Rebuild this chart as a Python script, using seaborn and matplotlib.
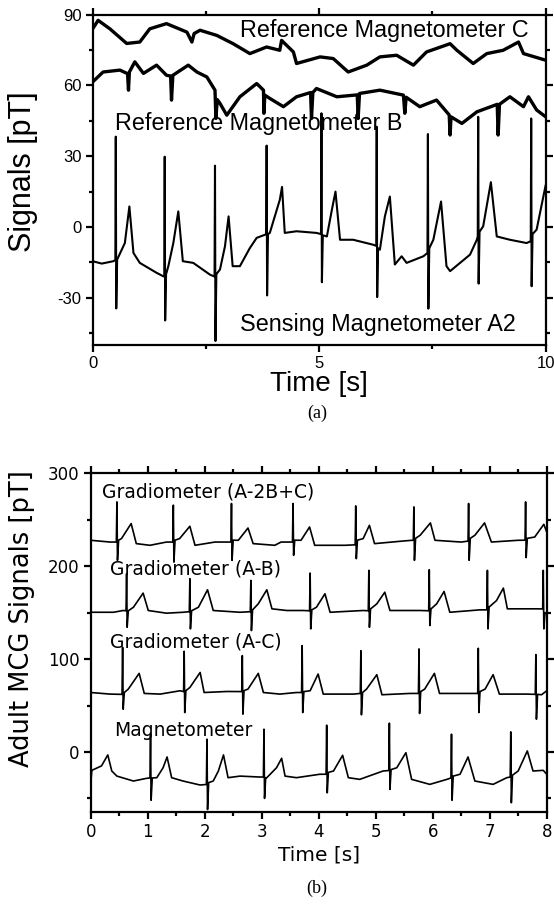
import matplotlib
matplotlib.use("Agg")
import matplotlib.pyplot as plt
import seaborn as sns
import pandas as pd
from matplotlib.ticker import MultipleLocator

# ---------------- panel (a): 10 s record, three magnetometers ----------------
t_ref_c = [0.0, 0.12, 0.38, 0.75, 1.04, 1.26, 1.63, 2.08, 2.19, 2.24, 2.37, 2.74, 3.10,
           3.47, 3.84, 4.13, 4.17, 4.43, 4.50, 5.02, 5.31, 5.64, 6.05, 6.34, 6.71, 7.08,
           7.37, 7.89, 8.04, 8.40, 8.70, 9.06, 9.40, 9.51, 10.0]
ref_c = [84, 87.6, 84, 77.8, 78.4, 84, 86.2, 82.6, 78.4, 82.0, 83.4, 81.2, 77.7,
         73.5, 76.3, 74.9, 79.1, 74.2, 69.3, 72.1, 71.4, 65.7, 68.6, 72.1, 72.8, 68.6,
         74.2, 77.7, 74.9, 69.3, 73.5, 74.9, 78.4, 73.5, 70.7]

t_ref_b = [0.0, 0.23, 0.60, 0.77, 0.79, 0.81, 0.93, 1.12, 1.41, 1.63, 1.72, 1.74, 1.77,
           2.11, 2.30, 2.52, 2.70, 2.72, 2.75, 2.81, 2.96, 3.25, 3.62, 3.77, 3.78, 3.80,
           3.91, 4.21, 4.50, 4.81, 4.83, 4.86, 4.94, 5.39, 5.84, 5.86, 5.89, 6.34, 6.86,
           6.89, 6.92, 7.22, 7.59, 7.87, 7.89, 7.91, 8.15, 8.48, 8.93, 8.95, 8.98, 9.21,
           9.51, 9.62, 9.80, 10.0]
ref_b = [61.5, 65.7, 66.5, 65, 58, 65.7, 70, 65.1, 68.6, 64.3, 64, 53.8, 64.3,
         68.6, 65.7, 63.6, 58, 46, 54, 52.4, 47.4, 55.2, 60.8, 58, 48.2, 55.9,
         54.5, 51, 55.2, 57, 46, 57, 58.7, 55.2, 56, 46, 56.6, 58, 55.9,
         48.2, 55, 51, 53.8, 47.5, 39, 46.7, 43.9, 48.8, 52, 39, 52, 55.2,
         51, 55.2, 49.6, 46.7]

t_sens_a2 = [0.0, 0.20, 0.455, 0.50, 0.51, 0.52, 0.54, 0.71, 0.81, 0.90, 1.04, 1.41, 1.56,
             1.58, 1.59, 1.60, 1.62, 1.67, 1.78, 1.89, 1.99, 2.22, 2.59, 2.69, 2.70, 2.71,
             2.73, 2.81, 2.92, 3.00, 3.09, 3.25, 3.47, 3.62, 3.80, 3.83, 3.84, 3.85, 3.87,
             3.91, 4.13, 4.18, 4.24, 4.50, 4.94, 5.04, 5.05, 5.06, 5.08, 5.17, 5.28, 5.36,
             5.46, 5.75, 6.19, 6.26, 6.27, 6.28, 6.30, 6.34, 6.45, 6.56, 6.67, 6.82, 6.93,
             7.30, 7.39, 7.40, 7.41, 7.43, 7.52, 7.69, 7.81, 7.89, 8.33, 8.48, 8.50, 8.51,
             8.52, 8.54, 8.62, 8.79, 8.92, 9.21, 9.58, 9.67, 9.68, 9.69, 9.71, 9.80, 10.0]
sens_a2 = [-14.5, -15.5, -14.5, -14, 38.3, -34.5, -13.8, -6.8, 8.7, -11, -15.2, -19.4, -20.9,
           -21, 29.8, -39.6, -20, -16.6, -6.8, 6.6, -14.5, -15.2, -20.2, -21, 26, -48.3,
           -20, -18, -8.2, 4.5, -16.6, -16.6, -8.9, -4.6, -3.3, -3, 34.5, -29, -3,
           -2.5, 11.5, 17, -2.5, -1.8, -2.5, -3, 48.2, -23.4, -3.5, -4, 7.3, 15,
           -5.4, -5.4, -7.5, -8, 42.5, -29.7, -9, -9.6, 4.5, 12.9, -15.9, -12.4, -15.2,
           -12.4, -11, 39.4, -34.6, -9, -5.4, 10.8, -16.6, -18.7, -11.7, -5.4, -4, 46.7,
           -24, -2, 0.3, 19, -4, -5.4, -6.8, -6, 46, -25.1, -3, -1.1, 17.8]

# ---------------- panel (b): 8 s record, magnetometer and gradiometers ----------------
t_mag = [0.0, 0.02, 0.19, 0.30, 0.37, 0.46, 0.75, 0.98, 1.04, 1.05, 1.06, 1.08, 1.16,
         1.27, 1.34, 1.42, 1.62, 1.92, 2.03, 2.04, 2.05, 2.07, 2.15, 2.24, 2.33, 2.41,
         2.62, 2.97, 3.03, 3.04, 3.05, 3.07, 3.09, 3.26, 3.35, 3.41, 3.61, 4.02, 4.13,
         4.14, 4.15, 4.17, 4.26, 4.42, 4.52, 4.72, 5.13, 5.23, 5.24, 5.25, 5.27, 5.37,
         5.53, 5.63, 5.95, 6.25, 6.32, 6.33, 6.34, 6.36, 6.48, 6.62, 6.74, 7.06, 7.30,
         7.36, 7.37, 7.38, 7.40, 7.50, 7.66, 7.76, 7.94, 8.0]
mag = [-35, -19.8, -15, -3.2, -20.5, -26, -31.3, -28.4, -28, 19.1, -52, -28, -27.7,
       -17, -5.4, -27.7, -31.3, -35.6, -35, 13.7, -62, -33, -31.3, -20.5, -3.2, -27.7,
       -26, -27, -27, 24.5, -50, -27.7, -27.7, -17, -6.8, -26, -27.7, -24, -24,
       28.8, -44, -22, -20.5, -3.6, -27.7, -29.5, -20.5, -20, 31, -40.3, -19, -17,
       -0.8, -29.5, -34.9, -29.5, -28, 19.1, -52, -26, -24, -5.4, -31.3, -34.9, -27.7,
       -27, 21.6, -54.7, -25, -20.5, 1.1, -20.5, -19.8, -24]

t_grad_ac = [0.0, 0.34, 0.55, 0.56, 0.57, 0.59, 0.66, 0.85, 0.94, 1.22, 1.57, 1.63, 1.64,
             1.65, 1.67, 1.74, 1.92, 1.99, 2.39, 2.65, 2.66, 2.67, 2.69, 2.76, 2.94, 3.03,
             3.32, 3.61, 3.70, 3.71, 3.72, 3.74, 3.85, 3.99, 4.08, 4.61, 4.73, 4.74, 4.75,
             4.77, 4.84, 5.02, 5.11, 5.60, 5.75, 5.76, 5.77, 5.79, 5.86, 6.03, 6.12, 6.65,
             6.79, 6.80, 6.81, 6.83, 6.92, 7.06, 7.17, 7.65, 7.80, 7.81, 7.82, 7.84, 7.91, 8.0]
grad_ac = [64, 62.3, 62, 112.6, 46, 64, 67.7, 84.6, 63, 62.3, 65.9, 65, 108.3,
           42.4, 66, 69.4, 85.6, 64, 65.1, 65, 103.7, 40.7, 66, 67.7, 84.6, 64,
           62.3, 64, 64, 114.5, 42.4, 65, 65.9, 83.9, 62.3, 62.3, 63, 109, 40,
           64, 67.7, 83.2, 61.6, 63, 63, 110.9, 41.4, 65, 67.7, 84.6, 63, 63,
           63, 111.6, 42.4, 65, 67.7, 83.2, 62.3, 62.3, 62, 104.8, 35.3, 62, 61.6, 65.9]

t_grad_ab = [0.0, 0.40, 0.57, 0.62, 0.63, 0.64, 0.66, 0.75, 0.92, 1.01, 1.33, 1.62, 1.73,
             1.74, 1.75, 1.77, 1.89, 2.05, 2.15, 2.62, 2.80, 2.81, 2.82, 2.84, 2.94, 3.09,
             3.18, 3.44, 3.73, 3.84, 3.85, 3.86, 3.88, 3.96, 4.11, 4.20, 4.78, 4.87, 4.88,
             4.89, 4.91, 5.02, 5.16, 5.25, 5.78, 5.93, 5.94, 5.95, 5.97, 6.07, 6.20, 6.30,
             6.83, 6.95, 6.96, 6.97, 6.99, 7.12, 7.24, 7.31, 7.82, 7.93, 7.94, 7.95, 7.97, 8.0]
grad_ab = [150.4, 150.4, 152.3, 152, 191.9, 134.2, 152, 155.8, 171, 152.3, 149.4, 150.4, 151,
           186.5, 132.5, 152, 155.8, 174.6, 152.3, 150.4, 151, 184.7, 130.7, 153, 159.5, 174.6,
           154.1, 152.3, 152.3, 152, 192.6, 132.5, 153, 155.8, 170.3, 150.4, 152.3, 152, 195.5,
           134.2, 154, 159.5, 172, 152.3, 152.3, 152, 196.2, 136.1, 154, 159.5, 172.8, 150.4,
           153, 153, 195.5, 132.5, 156, 163, 176.4, 154.1, 154.1, 154, 195.5, 132.5, 150, 148.7]

t_grad_2bc = [0.0, 0.34, 0.45, 0.46, 0.47, 0.49, 0.54, 0.71, 0.80, 1.04, 1.33, 1.44, 1.45,
              1.46, 1.48, 1.56, 1.74, 1.83, 2.18, 2.46, 2.47, 2.48, 2.50, 2.59, 2.76, 2.85,
              3.23, 3.34, 3.54, 3.55, 3.56, 3.58, 3.69, 3.84, 3.93, 4.46, 4.64, 4.65, 4.66,
              4.68, 4.78, 4.89, 4.98, 5.48, 5.66, 5.67, 5.68, 5.70, 5.78, 5.96, 6.04, 6.50,
              6.62, 6.63, 6.64, 6.66, 6.74, 6.91, 7.03, 7.50, 7.62, 7.63, 7.64, 7.66, 7.79,
              7.95, 8.0]
grad_2bc = [227.9, 226, 226, 269.2, 206.3, 228, 229.7, 245.9, 224.3, 222.5, 226, 226, 265.7,
            204.4, 228, 229.7, 243, 222.5, 226, 226, 267.5, 206.3, 228, 227.9, 241.1, 224.3,
            222.5, 226, 226, 267.5, 211.7, 228, 227.9, 242.2, 222.5, 222.5, 223, 264.9, 208.1,
            228, 229.7, 244, 224.3, 227.1, 228, 263.8, 206.3, 230, 233.3, 246.6, 227.9, 226,
            227, 267.5, 206.3, 230, 233.3, 246.6, 226, 227.9, 228, 269.2, 209.2, 230, 231.4,
            245.1, 236.8]

traces_a = [("Reference Magnetometer C", t_ref_c, ref_c, 2.4),
            ("Reference Magnetometer B", t_ref_b, ref_b, 2.4),
            ("Sensing Magnetometer A2", t_sens_a2, sens_a2, 1.5)]
traces_b = [("Gradiometer (A-2B+C)", t_grad_2bc, grad_2bc),
            ("Gradiometer (A-B)", t_grad_ab, grad_ab),
            ("Gradiometer (A-C)", t_grad_ac, grad_ac),
            ("Magnetometer", t_mag, mag)]

sns.set_theme(style="ticks")
plt.rcParams["font.family"] = ["Liberation Sans", "DejaVu Sans"]
plt.rcParams["axes.unicode_minus"] = False
plt.rcParams["text.color"] = "black"
plt.rcParams["axes.labelcolor"] = "black"
plt.rcParams["xtick.color"] = "black"
plt.rcParams["ytick.color"] = "black"


def style_axes(ax, xmaj, xmin, ymaj, ymin, lw):
    ax.xaxis.set_major_locator(MultipleLocator(xmaj))
    ax.xaxis.set_minor_locator(MultipleLocator(xmin))
    ax.yaxis.set_major_locator(MultipleLocator(ymaj))
    ax.yaxis.set_minor_locator(MultipleLocator(ymin))
    ax.tick_params(which="both", direction="out", top=True, right=True,
                   labeltop=False, labelright=False, width=lw, color="black",
                   labelcolor="black")
    ax.tick_params(which="major", length=5)
    ax.tick_params(which="minor", length=3)
    for s in ax.spines.values():
        s.set_visible(True)
        s.set_linewidth(lw)
        s.set_color("black")


fig = plt.figure(figsize=(5.54, 9.05), dpi=100)

# panel (a)
ax1 = fig.add_axes([0.1673, 0.6188, 0.8177, 0.3650])
for name, t, v, lw in traces_a:
    df = pd.DataFrame({"t": t, "v": v})
    sns.lineplot(data=df, x="t", y="v", ax=ax1, color="black", lw=lw,
                 estimator=None, sort=False)
ax1.set_xlim(0, 10)
ax1.set_ylim(-50, 90)
style_axes(ax1, 5, 2.5, 30, 15, 1.6)
ax1.tick_params(which="major", labelsize=12, pad=3)
ax1.set_xlabel("Time [s]", fontsize=20)
ax1.set_ylabel("Signals [pT]", fontsize=22)
ax1.xaxis.set_label_coords(0.5, -0.118)
ax1.xaxis.label.set_va("center")
ax1.yaxis.set_label_coords(-0.154, 0.524)
ax1.yaxis.label.set_va("center")
ax1.text(3.25, 83.4, traces_a[0][0], fontsize=16.8, va="center")
ax1.text(0.49, 44, traces_a[1][0], fontsize=16.8, va="center")
ax1.text(3.25, -41.3, traces_a[2][0], fontsize=16.8, va="center")

# panel (b)
ax2 = fig.add_axes([0.1637, 0.1024, 0.8231, 0.3746])
for name, t, v in traces_b:
    df = pd.DataFrame({"t": t, "v": v})
    sns.lineplot(data=df, x="t", y="v", ax=ax2, color="black", lw=1.2,
                 estimator=None, sort=False)
ax2.set_xlim(0, 8)
ax2.set_ylim(-65, 300)
style_axes(ax2, 1, 0.5, 100, 50, 1.6)
ax2.tick_params(which="major", labelsize=12, pad=3)
for lab in ax2.get_xticklabels() + ax2.get_yticklabels():
    lab.set_family("DejaVu Sans")
ax2.set_xlabel("Time [s]", fontsize=14.5, family="DejaVu Sans")
ax2.set_ylabel("Adult MCG Signals [pT]", fontsize=18.5, family="DejaVu Sans")
ax2.xaxis.set_label_coords(0.5, -0.125)
ax2.xaxis.label.set_va("center")
ax2.yaxis.set_label_coords(-0.151, 0.572)
ax2.yaxis.label.set_va("center")
ax2.text(0.19, 279.7, traces_b[0][0], fontsize=13.5, va="center", family="DejaVu Sans")
ax2.text(0.34, 197.4, traces_b[1][0], fontsize=13.5, va="center", family="DejaVu Sans")
ax2.text(0.34, 117.9, traces_b[2][0], fontsize=13.5, va="center", family="DejaVu Sans")
ax2.text(0.41, 22.7, traces_b[3][0], fontsize=13.5, va="center", family="DejaVu Sans")

fig.text(317 / 554, 1 - 413 / 905, "(a)", fontsize=13, family="Liberation Serif",
         ha="center", va="center")
fig.text(317 / 554, 1 - 888 / 905, "(b)", fontsize=13, family="Liberation Serif",
         ha="center", va="center")

fig.savefig("out.png", dpi=100)
